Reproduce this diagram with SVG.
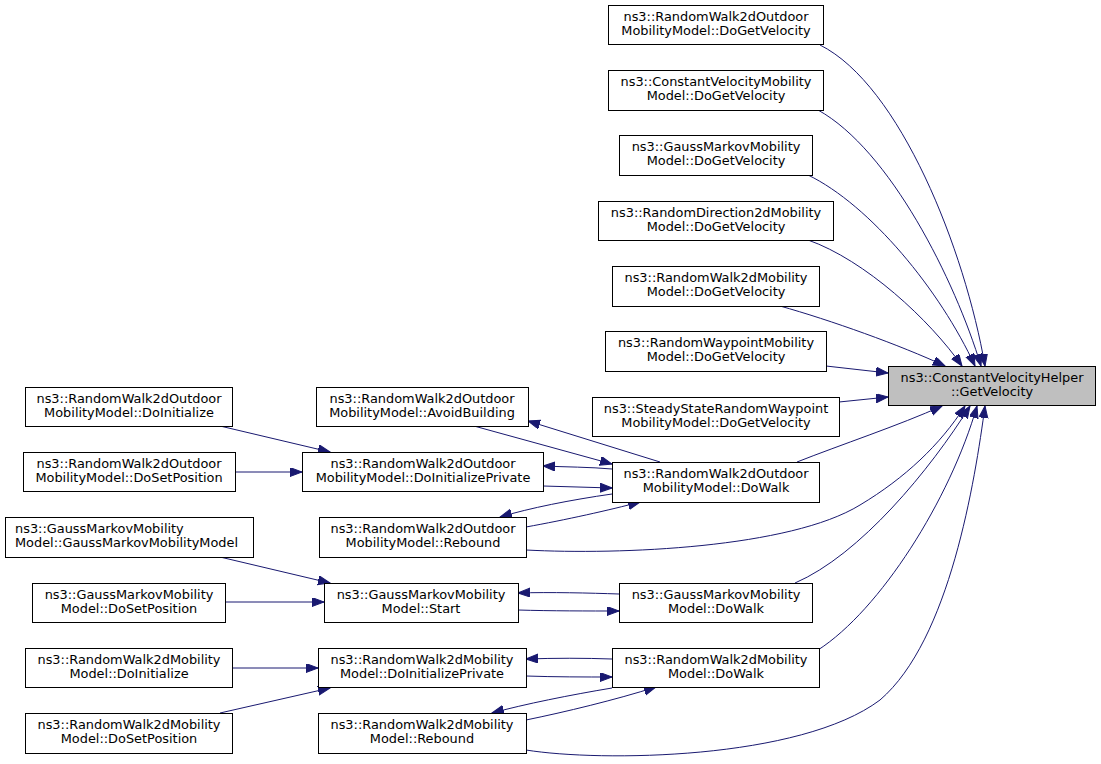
<svg xmlns="http://www.w3.org/2000/svg" width="1101" height="764" viewBox="0 0 1101 764">
<style>
.n rect{fill:#ffffff;stroke:#000000;stroke-width:1}
.n text{font-family:"DejaVu Sans",sans-serif;font-size:12.9px;text-anchor:middle;fill:#000}
.n text.l{text-anchor:start}
#target rect{fill:#bfbfbf}
#edges path{fill:none;stroke:#191970;stroke-width:1;marker-end:url(#ah)}
</style>
<defs>
<marker id="ah" markerUnits="userSpaceOnUse" markerWidth="13" markerHeight="10" refX="12" refY="4.5" orient="auto">
<path d="M0,0 L12,4.5 L0,9 z" fill="#191970" stroke="#191970"/>
</marker>
</defs>
<rect width="1101" height="764" fill="#ffffff"/>
<g id="edges">
<path d="M820,45 C900,85 965,250 985,366"/>
<path d="M818,110 C890,150 955,280 981,366"/>
<path d="M808,175 C870,205 940,290 975,366"/>
<path d="M808,240 C865,260 930,320 962,366"/>
<path d="M780,306 C830,320 900,345 945,366"/>
<path d="M826,366 L888,373"/>
<path d="M839,402 L888,397"/>
<path d="M797,462 C840,445 900,425 942,406"/>
<path d="M526,550 C620,555 790,548 860,505 C905,478 940,445 965,406"/>
<path d="M795,583 C860,555 930,470 970,406"/>
<path d="M818,650 C880,610 950,500 977,406"/>
<path d="M526,750 C600,762 800,760 880,700 C950,640 975,480 985,406"/>
<path d="M660,462 L528,421"/>
<path d="M474,426 L612,464"/>
<path d="M612,469 C590,467 565,467 543,466"/>
<path d="M543,486 L612,488"/>
<path d="M612,494 C570,500 530,508 500,517"/>
<path d="M526,527 C565,520 610,510 640,502"/>
<path d="M220,426 L330,452"/>
<path d="M235,472 L302,472"/>
<path d="M220,557 L330,583"/>
<path d="M226,602 L324,602"/>
<path d="M619,594 C590,593 550,592 518,593"/>
<path d="M518,610 C550,611 590,611 619,611"/>
<path d="M232,668 L318,668"/>
<path d="M220,713 L330,688"/>
<path d="M612,659 C585,658 555,658 526,659"/>
<path d="M526,676 C555,677 585,677 612,677"/>
<path d="M612,688 C570,695 525,704 492,713"/>
<path d="M526,720 C565,712 615,700 656,687"/>
</g>
<g id="target" class="n"><rect x="888.5" y="366.5" width="207" height="39"/><text x="992" y="381.5">ns3::ConstantVelocityHelper</text><text x="992" y="395.5">::GetVelocity</text></g>
<g id="n1" class="n"><rect x="608.5" y="5.5" width="215" height="39"/><text x="716" y="20.5">ns3::RandomWalk2dOutdoor</text><text x="716" y="34.5">MobilityModel::DoGetVelocity</text></g>
<g id="n2" class="n"><rect x="608.5" y="70.5" width="215" height="40"/><text x="716" y="86">ns3::ConstantVelocityMobility</text><text x="716" y="100">Model::DoGetVelocity</text></g>
<g id="n3" class="n"><rect x="619.5" y="135.5" width="193" height="40"/><text x="716" y="151">ns3::GaussMarkovMobility</text><text x="716" y="165">Model::DoGetVelocity</text></g>
<g id="n4" class="n"><rect x="598.5" y="201.5" width="235" height="39"/><text x="716" y="216.5">ns3::RandomDirection2dMobility</text><text x="716" y="230.5">Model::DoGetVelocity</text></g>
<g id="n5" class="n"><rect x="612.5" y="266.5" width="207" height="40"/><text x="716" y="282">ns3::RandomWalk2dMobility</text><text x="716" y="296">Model::DoGetVelocity</text></g>
<g id="n6" class="n"><rect x="605.5" y="331.5" width="221" height="40"/><text x="716" y="347">ns3::RandomWaypointMobility</text><text x="716" y="361">Model::DoGetVelocity</text></g>
<g id="n7" class="n"><rect x="592.5" y="397.5" width="247" height="39"/><text x="716" y="412.5">ns3::SteadyStateRandomWaypoint</text><text x="716" y="426.5">MobilityModel::DoGetVelocity</text></g>
<g id="n8" class="n"><rect x="612.5" y="462.5" width="207" height="40"/><text x="716" y="478">ns3::RandomWalk2dOutdoor</text><text x="716" y="492">MobilityModel::DoWalk</text></g>
<g id="n9" class="n"><rect x="619.5" y="583.5" width="193" height="39"/><text x="716" y="598.5">ns3::GaussMarkovMobility</text><text x="716" y="612.5">Model::DoWalk</text></g>
<g id="n10" class="n"><rect x="612.5" y="648.5" width="207" height="39"/><text x="716" y="663.5">ns3::RandomWalk2dMobility</text><text x="716" y="677.5">Model::DoWalk</text></g>
<g id="n11" class="n"><rect x="316.5" y="387.5" width="212" height="39"/><text x="422" y="402.5">ns3::RandomWalk2dOutdoor</text><text x="422" y="416.5">MobilityModel::AvoidBuilding</text></g>
<g id="n12" class="n"><rect x="302.5" y="452.5" width="241" height="39"/><text x="423" y="467.5">ns3::RandomWalk2dOutdoor</text><text x="423" y="481.5">MobilityModel::DoInitializePrivate</text></g>
<g id="n13" class="n"><rect x="319.5" y="517.5" width="207" height="40"/><text x="423" y="533">ns3::RandomWalk2dOutdoor</text><text x="423" y="547">MobilityModel::Rebound</text></g>
<g id="n14" class="n"><rect x="324.5" y="583.5" width="194" height="39"/><text x="421" y="598.5">ns3::GaussMarkovMobility</text><text x="421" y="612.5">Model::Start</text></g>
<g id="n15" class="n"><rect x="318.5" y="648.5" width="208" height="39"/><text x="422" y="663.5">ns3::RandomWalk2dMobility</text><text x="422" y="677.5">Model::DoInitializePrivate</text></g>
<g id="n16" class="n"><rect x="318.5" y="713.5" width="208" height="40"/><text x="422" y="729">ns3::RandomWalk2dMobility</text><text x="422" y="743">Model::Rebound</text></g>
<g id="n17" class="n"><rect x="25.5" y="387.5" width="207" height="39"/><text x="129" y="402.5">ns3::RandomWalk2dOutdoor</text><text x="129" y="416.5">MobilityModel::DoInitialize</text></g>
<g id="n18" class="n"><rect x="23.5" y="452.5" width="212" height="39"/><text x="129" y="467.5">ns3::RandomWalk2dOutdoor</text><text x="129" y="481.5">MobilityModel::DoSetPosition</text></g>
<g id="n19" class="n"><rect x="5.5" y="517.5" width="248" height="40"/><text class="l" x="15" y="533">ns3::GaussMarkovMobility</text><text class="l" x="15" y="547">Model::GaussMarkovMobilityModel</text></g>
<g id="n20" class="n"><rect x="32.5" y="583.5" width="193" height="39"/><text x="129" y="598.5">ns3::GaussMarkovMobility</text><text x="129" y="612.5">Model::DoSetPosition</text></g>
<g id="n21" class="n"><rect x="25.5" y="648.5" width="207" height="39"/><text x="129" y="663.5">ns3::RandomWalk2dMobility</text><text x="129" y="677.5">Model::DoInitialize</text></g>
<g id="n22" class="n"><rect x="25.5" y="713.5" width="207" height="40"/><text x="129" y="729">ns3::RandomWalk2dMobility</text><text x="129" y="743">Model::DoSetPosition</text></g>
</svg>
